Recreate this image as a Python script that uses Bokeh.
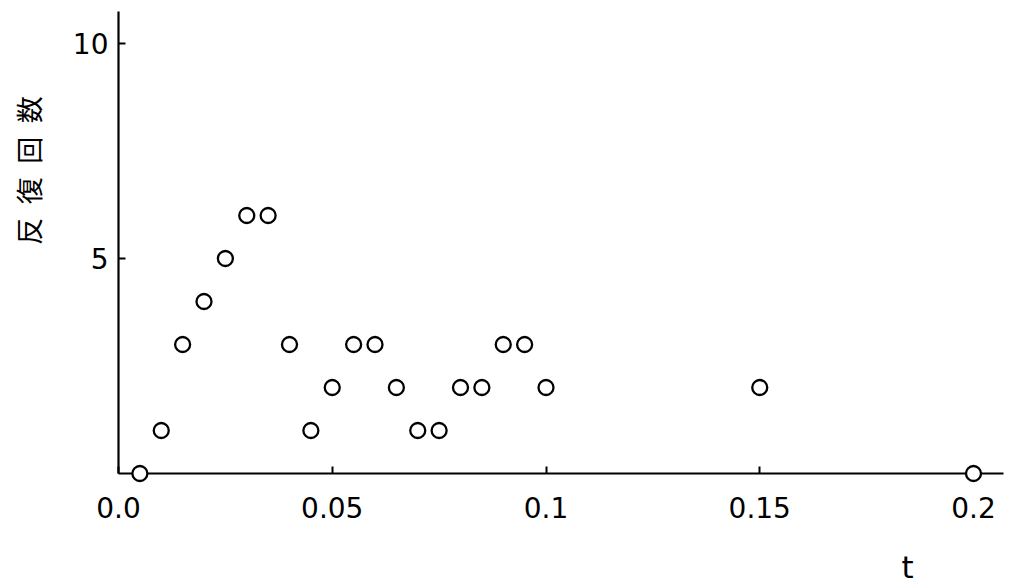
import math
from bokeh.plotting import figure
from bokeh.models import Range1d, FixedTicker, Label, ColumnDataSource
from bokeh.embed import file_html
from bokeh.resources import INLINE

# data
t_values = [0.005, 0.01, 0.015, 0.02, 0.025, 0.03, 0.035, 0.04, 0.045, 0.05,
            0.055, 0.06, 0.065, 0.07, 0.075, 0.08, 0.085, 0.09, 0.095, 0.1,
            0.15, 0.2]
iterations = [0, 1, 3, 4, 5, 6, 6, 3, 1, 2,
              3, 3, 2, 1, 1, 2, 2, 3, 3, 2,
              2, 0]
x_ticks = [0.0, 0.05, 0.1, 0.15, 0.2]
x_tick_labels = ["0.0", "0.05", "0.1", "0.15", "0.2"]
y_ticks = [5, 10]
y_tick_labels = ["5", "10"]
y_label = "反\u2002復\u2002回\u2002数"
x_label = "t"

W, H = 1019, 585
X0, Y0 = 118, 473          # pixel position of the data origin
SX, SY = 4275.0, 43.0      # pixels per data unit
p = figure(width=W, height=H, output_backend="svg", toolbar_location=None,
           title=None,
           x_range=Range1d(-X0 / SX, (W - X0) / SX),
           y_range=Range1d(-(H - Y0) / SY, Y0 / SY),
           min_border=0, min_border_left=0, min_border_right=0,
           min_border_top=0, min_border_bottom=0)
p.outline_line_color = None
p.grid.visible = False
p.background_fill_color = "white"
p.border_fill_color = "white"

font = "DejaVu Sans"
for ax in (p.xaxis[0], p.yaxis[0]):
    ax.axis_line_width = 2.2
    ax.axis_line_color = "black"
    ax.major_tick_line_width = 2
    ax.major_tick_line_color = "black"
    ax.major_tick_in = 7
    ax.major_tick_out = 0
    ax.minor_tick_line_color = None
    ax.major_label_text_font = font
    ax.major_label_text_font_size = "28px"
    ax.major_label_text_color = "black"
    ax.fixed_location = 0

xa = p.xaxis[0]
xa.ticker = FixedTicker(ticks=x_ticks)
xa.major_label_overrides = {k: v for k, v in zip(x_ticks, x_tick_labels)}
xa.major_label_standoff = 23
xa.bounds = (0, (1003 - X0) / SX)

ya = p.yaxis[0]
ya.ticker = FixedTicker(ticks=y_ticks)
ya.major_label_overrides = {k: v for k, v in zip(y_ticks, y_tick_labels)}
ya.major_label_standoff = 10
ya.bounds = (0, (Y0 - 11) / SY)

src = ColumnDataSource(dict(t=t_values, n=iterations))
r = p.scatter("t", "n", source=src, marker="circle", size=15,
              fill_color="white", line_color="black", line_width=2.3)
r.level = "overlay"

p.add_layout(Label(x=(28 - X0) / SX, y=(Y0 - 170) / SY, text=y_label,
                   angle=math.pi / 2,
                   text_align="center", text_baseline="middle",
                   text_font="Noto Sans CJK JP", text_font_size="27px",
                   text_color="black"))
p.add_layout(Label(x=(907 - X0) / SX, y=(Y0 - 566) / SY, text=x_label,
                   text_align="center", text_baseline="middle",
                   text_font=font, text_font_size="31px",
                   text_color="black"))

open("out.html", "w").write(file_html(p, INLINE))
